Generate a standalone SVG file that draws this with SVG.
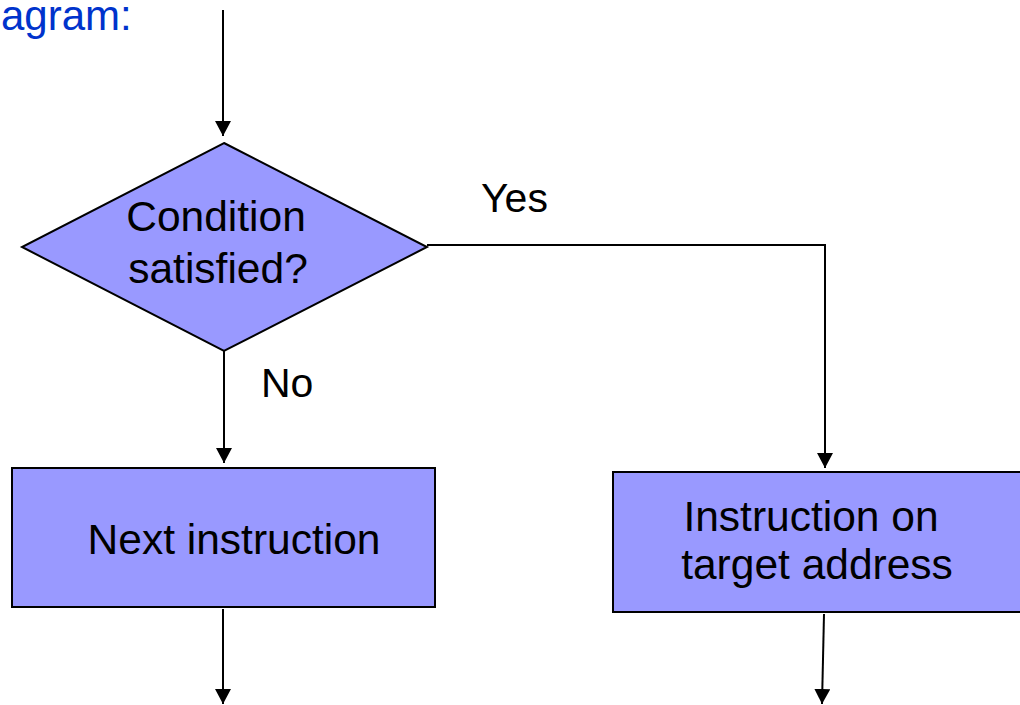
<svg xmlns="http://www.w3.org/2000/svg" width="1020" height="705" viewBox="0 0 1020 705">
<style>
.shape{fill:#9999ff;stroke:#000;stroke-width:2}
.lbl{font-family:"Liberation Sans",Arial,sans-serif;font-size:42.5px;fill:#000;text-anchor:middle}
.edge{font-family:"Liberation Sans",Arial,sans-serif;font-size:41px;fill:#000}
.conn{fill:none;stroke:#000;stroke-width:2}
</style>
<defs>
<marker id="arr" markerUnits="userSpaceOnUse" markerWidth="16" markerHeight="17" refX="15" refY="8" orient="auto">
<path d="M0,0 L15,8 L0,16 Z" fill="#000"/>
</marker>
</defs>
<rect width="1020" height="705" fill="#fff"/>
<text x="1" y="30" font-family="'Liberation Sans',Arial,sans-serif" font-size="42" fill="#0033cc">agram:</text>
<g id="connectors">
<line class="conn" x1="223" y1="10" x2="223" y2="136" marker-end="url(#arr)"/>
<line class="conn" x1="224" y1="351" x2="224" y2="463" marker-end="url(#arr)"/>
<polyline class="conn" points="427,245 825,245 825,468" marker-end="url(#arr)"/>
<line class="conn" x1="223" y1="609" x2="223" y2="704" marker-end="url(#arr)"/>
<line class="conn" x1="824" y1="614" x2="822" y2="704" marker-end="url(#arr)"/>
<text class="edge" x="481" y="212">Yes</text>
<text class="edge" x="261" y="397">No</text>
</g>
<g id="condition">
<polygon class="shape" points="224,143 427,247 224,351 22,247"/>
<text class="lbl" x="216" y="231">Condition</text>
<text class="lbl" x="218" y="283">satisfied?</text>
</g>
<g id="next">
<rect class="shape" x="12" y="468" width="423" height="139"/>
<text class="lbl" x="234" y="554">Next instruction</text>
</g>
<g id="target">
<rect class="shape" x="613" y="472" width="410" height="140"/>
<text class="lbl" x="811" y="531">Instruction on</text>
<text class="lbl" x="817" y="579">target address</text>
</g>
</svg>
